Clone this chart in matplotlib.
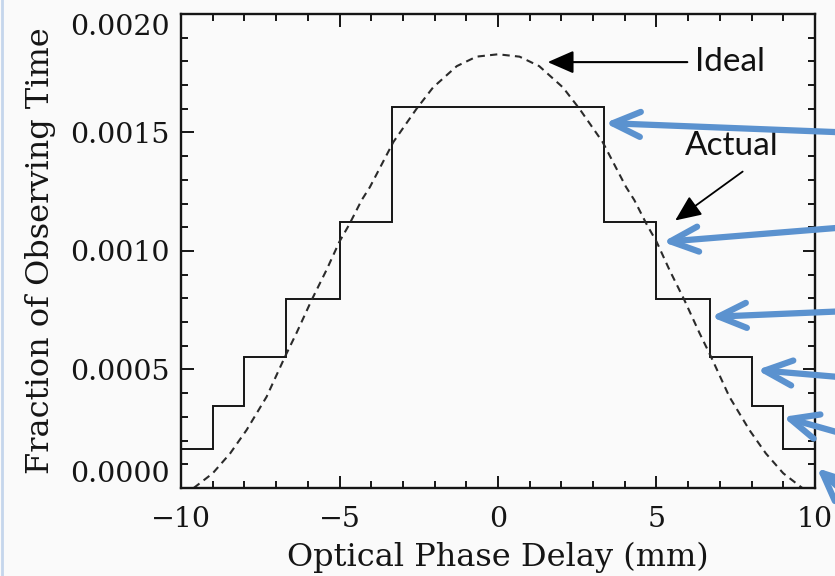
import matplotlib
matplotlib.use("Agg")
import matplotlib.pyplot as plt
from matplotlib.ticker import MultipleLocator, FormatStrFormatter
from matplotlib.lines import Line2D

# step profile (actual)
step_edges = [-10, -9, -8, -6.7, -5, -3.33, 3.33, 5, 6.7, 8, 9, 10]
step_levels = [0.000165, 0.000347, 0.000551, 0.000796, 0.001122, 0.001608,
               0.001122, 0.000796, 0.000551, 0.000347, 0.000165]

# ideal curve
ideal_x = [-9.6, -9.0, -8.45, -7.93, -7.3, -6.72, -6.36, -5.88, -5.41, -5.0,
           -4.7, -4.3, -4.04, -3.3, -2.57, -2.05, -1.3, -0.68, 0.0,
           0.68, 1.3, 2.05, 2.57, 3.3, 4.04, 4.3, 4.7, 5.0, 5.41, 5.88,
           6.36, 6.72, 7.3, 7.93, 8.45, 9.0, 9.6]
ideal_y = [0.0, 0.000062, 0.000146, 0.000245, 0.000385, 0.000554, 0.000653,
           0.000793, 0.00092, 0.00104, 0.00111, 0.001215, 0.00127, 0.00146,
           0.00160, 0.00169, 0.00178, 0.00182, 0.00183,
           0.00182, 0.00178, 0.00169, 0.00160, 0.00146, 0.00127, 0.001215,
           0.00111, 0.00104, 0.00092, 0.000793, 0.000653, 0.000554, 0.000385,
           0.000245, 0.000146, 0.000062, 0.0]

xticks = [-10, -5, 0, 5, 10]
yticks = [0.0, 0.0005, 0.0010, 0.0015, 0.0020]

# blue arrow tips (data coords), tails sit off the right edge
blue_tips = [(3.375, 0.00154), (5.2, 0.001038), (6.72, 0.000722),
             (8.17, 0.000498), (8.99, 0.0003), (10.06, 0.000084)]
blue_tails = [(12.7, 0.001491), (12.7, 0.001119), (12.7, 0.000756),
              (12.7, 0.000446), (12.7, 0.00016), (12.7, -0.000232)]

bg = "#fafafa"
serif = "DejaVu Serif"
ink = "#151515"

fig = plt.figure(figsize=(8.35, 5.76), dpi=100, facecolor=bg)
ax = fig.add_axes([0.2168, 0.1528, 0.976 - 0.2168, 0.9757 - 0.1528])
ax.set_facecolor(bg)

ax.stairs(step_levels, step_edges, baseline=None, color=ink, lw=1.4)
ax.plot(ideal_x, ideal_y, color="#2a2a2a", lw=1.5, ls=(0, (3.5, 2.5)))

ax.set_xlim(-10, 10)
ax.set_ylim(0, 0.002)
ax.set_xticks(xticks)
ax.set_yticks(yticks)
ax.xaxis.set_minor_locator(MultipleLocator(1))
ax.yaxis.set_minor_locator(MultipleLocator(0.0001))
ax.yaxis.set_major_formatter(FormatStrFormatter("%.4f"))
ax.tick_params(which="both", direction="in", top=True, right=True, width=1.4,
               colors=ink)
ax.tick_params(which="major", length=9)
ax.tick_params(which="minor", length=5)
ax.tick_params(axis="x", which="major", pad=13)
ax.tick_params(axis="y", which="major", pad=8)
for lab in ax.get_xticklabels() + ax.get_yticklabels():
    lab.set_fontfamily(serif)
    lab.set_fontsize(20.5)
# end labels sit inside the axis range, as in the original
ylabs = ax.get_yticklabels()
ylabs[0].set_verticalalignment("bottom")
ylabs[-1].set_verticalalignment("top")
for s in ax.spines.values():
    s.set_linewidth(1.7)
    s.set_color(ink)

ax.set_xlabel("Optical Phase Delay (mm)", fontfamily=serif, fontsize=23,
              labelpad=6, color=ink)
ax.set_ylabel("Fraction of Observing Time", fontfamily=serif, fontsize=23,
              labelpad=10, color=ink)

# annotations
ax.annotate("", xy=(1.48, 0.001797), xytext=(6.06, 0.001797),
            arrowprops=dict(arrowstyle="-|>,head_length=0.8,head_width=0.35",
                            color="black", lw=1.5, mutation_scale=20))
ax.text(6.2, 0.001797, "Ideal", fontfamily="Lato", fontsize=24,
        ha="left", va="center", color="#111111")
ax.text(7.38, 0.001443, "Actual", fontfamily="Lato", fontsize=24,
        ha="center", va="center", color="#111111")
ax.annotate("", xy=(5.52, 0.001122), xytext=(7.79, 0.001342),
            arrowprops=dict(arrowstyle="-|>,head_length=0.8,head_width=0.35",
                            color="black", lw=1.3, mutation_scale=20))

for tip, tail in zip(blue_tips, blue_tails):
    ax.annotate("", xy=tip, xytext=tail, annotation_clip=False,
                arrowprops=dict(arrowstyle="->,head_length=1.0,head_width=0.45",
                                color="#5b92cf", lw=4.5, mutation_scale=20,
                                shrinkA=0, shrinkB=0, capstyle="round",
                                joinstyle="round"))

# thin blue border on the left edge
fig.add_artist(Line2D([0.002, 0.002], [0, 1], transform=fig.transFigure,
                      color="#c5d6ec", lw=2))

fig.savefig("out.png", dpi=100, facecolor=bg)
